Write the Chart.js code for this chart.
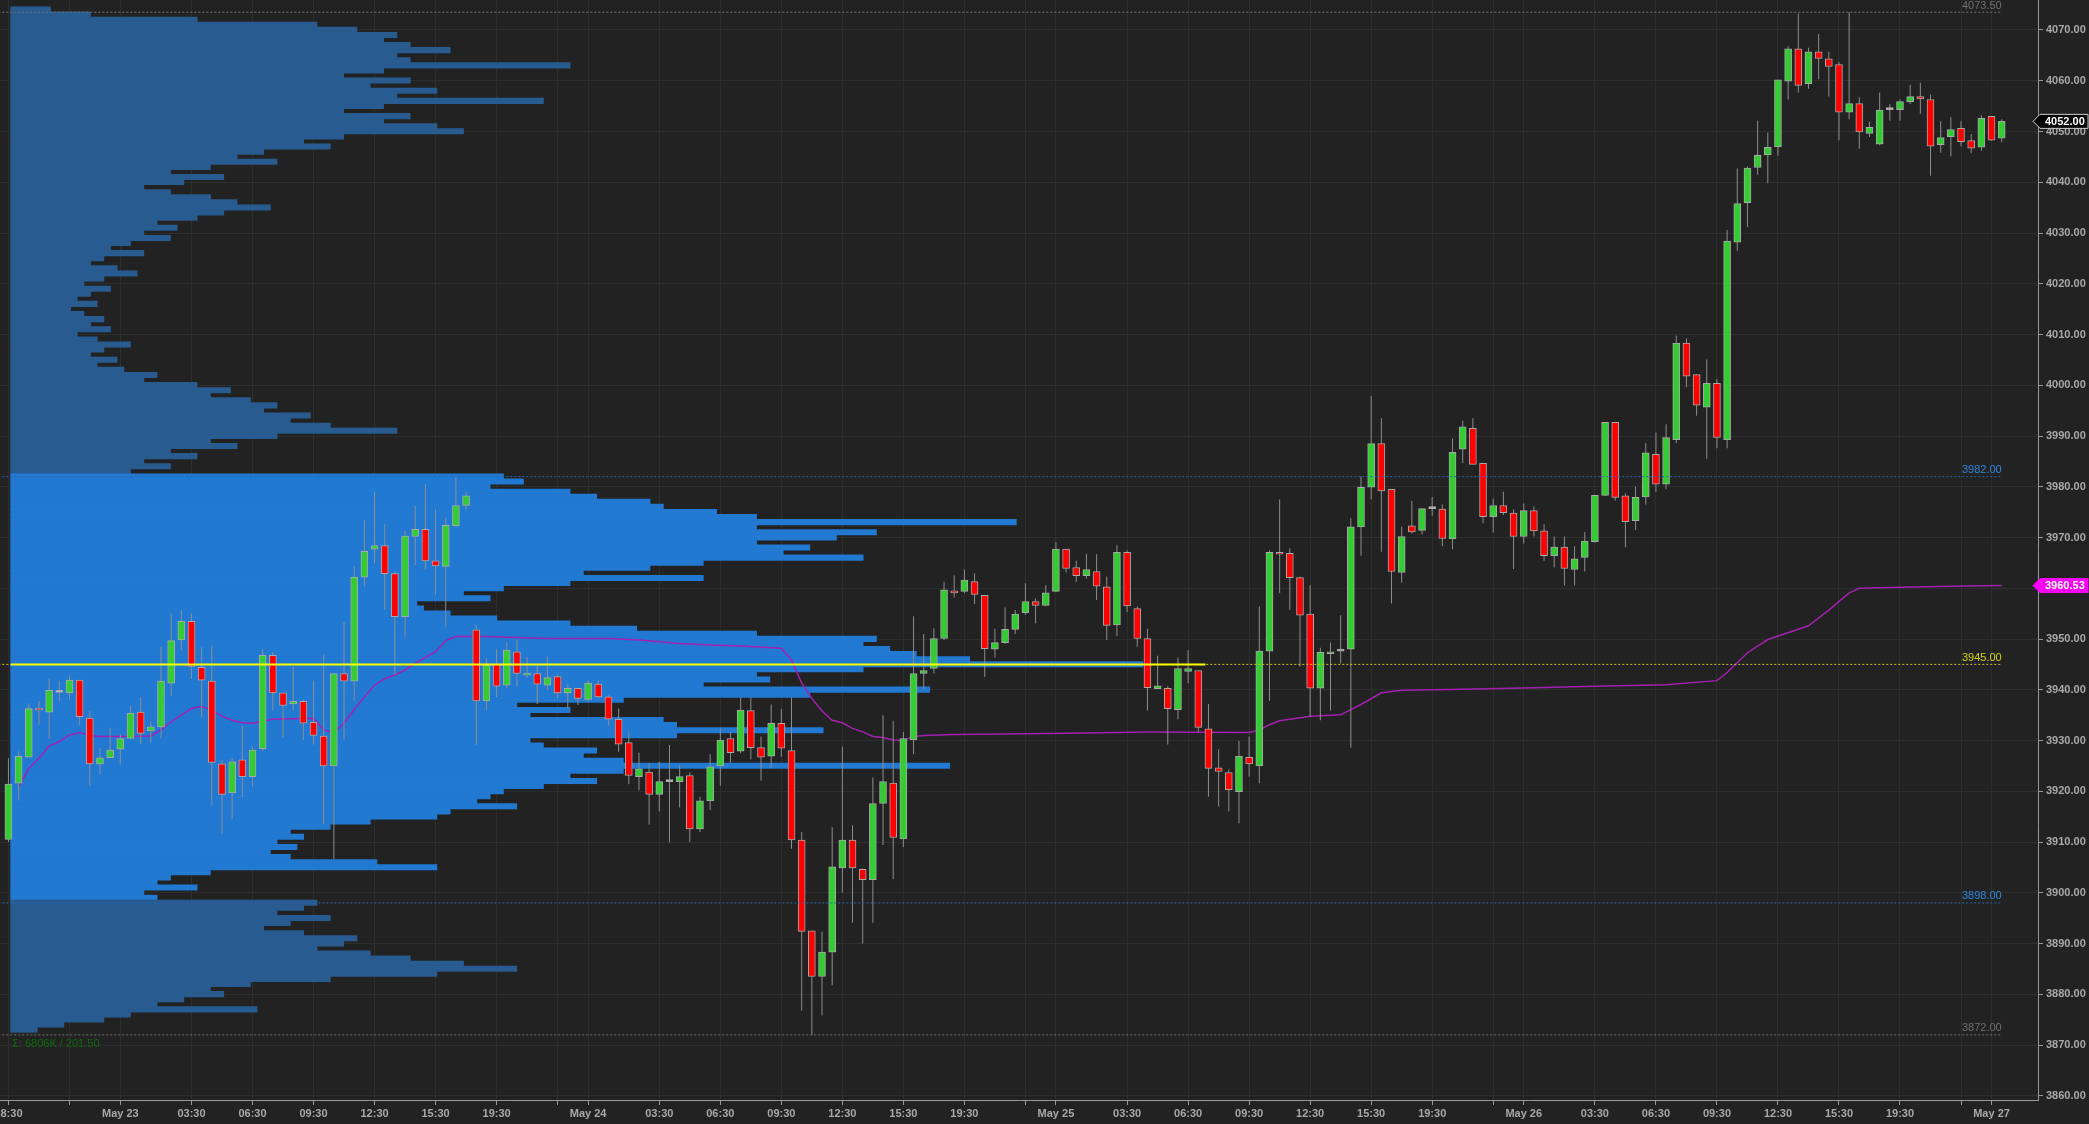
<!DOCTYPE html>
<html>
<head>
<meta charset="utf-8">
<title>30 min candles with volume profile</title>
<script src="https://cdn.jsdelivr.net/npm/chart.js@4.4.1/dist/chart.umd.min.js"></script>
<style>
  html, body { margin: 0; padding: 0; background: #222222; overflow: hidden; }
  #wrap { width: 2089px; height: 1124px; position: relative; }
</style>
</head>
<body>
<div id="wrap"><canvas id="myChart"></canvas></div>
<script>
// 30 minute bars, May 22 18:30 -> May 27 00:30 (bar index on the x axis)
const opens = [
  3910.5,3921.6,3926.7,3936.4,3935.6,3939.5,3939.4,3941.9,3934.4,3925.4,
  3926.6,3928.3,3930.4,3935.6,3931.9,3932.7,3941.3,3949.8,3953.5,3944.4,
  3941.7,3925.4,3919.7,3926.2,3922.9,3928.4,3946.8,3939.4,3937.2,3937.7,
  3933.6,3930.9,3925.0,3943.2,3941.7,3962.2,3967.7,3968.4,3962.9,3954.4,
  3970.2,3971.6,3965.4,3964.3,3972.3,3976.3,3951.8,3937.8,3945.0,3940.9,
  3947.5,3942.9,3943.2,3940.9,3942.6,3939.4,3940.3,3938.1,3941.1,3938.6,
  3934.2,3929.6,3922.9,3923.8,3919.4,3921.9,3921.9,3923.1,3912.6,3918.1,
  3925.0,3930.4,3927.9,3935.9,3928.6,3926.9,3933.4,3928.0,3910.4,3892.5,
  3883.5,3888.3,3904.9,3910.4,3904.6,3902.6,3917.6,3921.6,3910.6,3930.1,
  3943.2,3944.2,3950.1,3959.5,3959.4,3961.3,3958.6,3948.0,3949.3,3951.9,
  3955.2,3957.4,3956.6,3959.4,3967.7,3964.1,3962.5,3963.3,3960.3,3952.8,
  3967.1,3956.0,3950.1,3940.2,3940.3,3936.1,3943.6,3943.8,3932.3,3924.6,
  3923.7,3919.9,3926.7,3925.0,3947.6,3967.1,3966.9,3962.1,3954.9,3940.3,
  3947.1,3947.6,3948.0,3972.1,3979.9,3988.5,3979.5,3963.1,3972.3,3971.4,
  3975.7,3975.6,3969.7,3987.4,3991.5,3984.6,3974.1,3976.3,3974.8,3970.2,
  3975.3,3971.3,3966.4,3968.1,3963.7,3966.1,3969.2,3978.3,3992.7,3978.2,
  3973.3,3978.0,3986.4,3980.5,3989.3,4008.3,4002.1,3995.7,4000.4,3989.3,
  4028.2,4036.0,4042.9,4045.4,4047.0,4059.9,4066.3,4059.4,4065.7,4064.3,
  4063.2,4053.8,4055.5,4049.6,4047.5,4054.3,4054.3,4055.9,4056.9,4056.3,
  4047.4,4049.0,4050.6,4048.2,4046.9,4053.0,4048.7
];
const highs = [
  3926.5,3927.9,3937.3,3937.8,3942.1,3941.8,3942.8,3941.9,3935.8,3928.5,
  3932.5,3931.3,3936.8,3938.6,3933.8,3948.5,3955.1,3955.6,3955.1,3948.4,
  3948.8,3926.2,3926.5,3932.9,3928.8,3948.0,3947.4,3939.4,3944.5,3938.1,
  3941.8,3947.0,3943.2,3953.3,3964.3,3973.4,3979.0,3972.6,3963.3,3971.3,
  3976.2,3980.5,3975.5,3973.9,3982.0,3979.0,3952.8,3946.2,3948.0,3949.3,
  3949.9,3946.5,3944.9,3946.5,3943.0,3941.1,3940.3,3941.9,3941.9,3938.9,
  3936.3,3931.6,3927.6,3925.5,3925.8,3929.1,3925.2,3923.7,3918.9,3927.3,
  3932.5,3931.7,3938.5,3938.5,3930.8,3937.1,3936.2,3938.5,3912.0,3892.5,
  3892.3,3912.9,3928.8,3913.3,3904.8,3922.7,3935.0,3933.8,3931.7,3954.5,
  3951.0,3952.1,3961.3,3962.5,3963.7,3962.9,3958.6,3952.0,3956.2,3955.7,
  3961.0,3958.0,3960.6,3969.1,3967.7,3965.4,3966.8,3966.7,3962.3,3968.5,
  3967.5,3956.4,3952.0,3946.7,3940.7,3946.3,3947.8,3943.8,3937.2,3928.3,
  3924.3,3929.9,3930.8,3956.4,3967.5,3977.5,3967.9,3962.3,3960.6,3948.3,
  3949.3,3954.7,3973.8,3982.0,3997.9,3993.5,3979.5,3972.1,3977.2,3975.7,
  3978.0,3976.5,3989.5,3993.0,3993.5,3984.6,3977.7,3979.0,3975.5,3976.7,
  3976.1,3972.6,3970.2,3970.2,3968.3,3971.1,3978.3,3992.7,3992.7,3978.7,
  3980.0,3988.6,3990.7,3992.3,4009.8,4009.2,4002.1,4005.1,4001.2,4030.6,
  4042.7,4043.1,4052.1,4049.8,4060.2,4066.8,4073.25,4066.5,4069.2,4065.7,
  4063.7,4073.5,4056.7,4051.9,4057.7,4055.4,4056.3,4059.2,4059.6,4057.3,
  4052.0,4052.8,4052.0,4049.5,4053.2,4053.0,4052.4
];
const lows = [
  3910.0,3918.2,3926.7,3933.1,3930.4,3937.8,3938.1,3933.1,3921.1,3923.3,
  3926.6,3925.3,3930.4,3929.3,3929.6,3930.4,3938.8,3947.8,3942.1,3934.7,
  3917.3,3911.7,3914.6,3918.9,3921.0,3928.0,3935.9,3930.6,3935.9,3930.1,
  3929.2,3913.5,3906.6,3930.1,3937.8,3960.3,3964.9,3955.7,3942.9,3950.5,
  3964.6,3963.7,3958.7,3952.3,3972.1,3975.5,3929.1,3936.0,3938.6,3940.3,
  3940.6,3942.3,3937.2,3940.0,3938.3,3936.3,3937.0,3937.6,3938.3,3933.0,
  3927.8,3921.4,3920.2,3913.4,3916.0,3909.9,3916.8,3910.0,3912.0,3916.3,
  3921.1,3925.6,3927.5,3926.3,3922.1,3924.6,3926.8,3908.7,3876.8,3872.0,
  3875.8,3881.8,3900.0,3894.1,3890.0,3894.1,3909.4,3902.7,3909.0,3927.3,
  3940.1,3943.2,3949.8,3958.2,3959.0,3956.9,3942.5,3946.3,3949.0,3951.0,
  3954.8,3953.1,3956.4,3959.3,3963.1,3961.3,3961.9,3957.7,3949.8,3950.6,
  3955.3,3948.5,3935.9,3940.2,3929.2,3934.2,3941.3,3931.7,3918.9,3917.0,
  3916.0,3913.7,3922.9,3921.6,3937.8,3959.0,3955.7,3944.6,3934.7,3934.0,
  3935.9,3945.2,3928.6,3966.4,3977.5,3967.2,3957.0,3961.1,3970.8,3970.6,
  3974.3,3968.3,3967.7,3984.7,3984.4,3972.8,3971.0,3974.4,3963.8,3968.8,
  3970.2,3965.4,3964.1,3960.6,3960.6,3963.3,3969.0,3978.3,3977.3,3968.1,
  3971.5,3976.5,3979.0,3979.5,3988.6,3999.6,3994.0,3985.5,3987.6,3987.6,
  4026.5,4031.2,4041.5,4039.8,4045.2,4056.3,4057.7,4058.4,4060.3,4056.9,
  4048.3,4052.4,4046.6,4048.9,4047.3,4052.1,4052.1,4055.4,4053.5,4041.3,
  4045.8,4045.1,4047.1,4045.7,4046.2,4048.2,4047.9
];
const closes = [
  3921.4,3926.9,3936.3,3936.0,3939.9,3939.5,3941.9,3934.7,3925.4,3926.6,
  3928.1,3930.4,3935.4,3931.4,3932.7,3941.7,3949.7,3953.5,3944.6,3941.9,
  3925.7,3919.4,3925.8,3922.9,3928.1,3946.8,3939.4,3936.9,3937.7,3933.4,
  3931.0,3925.0,3943.2,3941.7,3962.2,3967.3,3968.4,3962.9,3954.4,3970.3,
  3971.6,3965.4,3964.4,3972.4,3976.3,3978.2,3937.8,3944.9,3940.7,3947.8,
  3943.2,3943.2,3941.1,3942.4,3939.4,3940.3,3938.3,3941.3,3938.6,3934.2,
  3929.3,3923.1,3924.4,3919.4,3921.9,3921.9,3922.9,3912.6,3918.1,3924.8,
  3930.1,3927.6,3936.0,3928.6,3926.7,3933.4,3928.5,3910.4,3892.4,3883.5,
  3888.3,3905.1,3910.4,3904.9,3902.6,3917.6,3921.9,3910.9,3930.4,3943.2,
  3943.8,3950.1,3959.7,3959.1,3961.6,3958.8,3948.1,3949.3,3951.9,3954.9,
  3957.4,3956.6,3959.1,3967.7,3963.9,3962.5,3963.7,3960.4,3952.7,3967.1,
  3956.5,3950.1,3940.4,3940.8,3936.3,3944.2,3944.2,3932.6,3924.5,3923.9,
  3920.3,3926.9,3925.4,3947.6,3967.1,3966.7,3962.1,3954.7,3940.3,3947.4,
  3947.4,3947.6,3972.1,3979.9,3988.5,3979.2,3963.3,3970.2,3971.1,3975.7,
  3975.7,3969.8,3986.8,3991.8,3984.4,3974.1,3976.3,3974.9,3970.2,3975.3,
  3971.3,3966.4,3968.1,3963.9,3965.8,3969.3,3978.3,3992.7,3977.9,3973.1,
  3977.9,3986.7,3980.5,3989.7,4008.3,4001.8,3996.1,4000.4,3989.7,4028.4,
  4035.8,4042.8,4045.3,4046.9,4060.2,4066.3,4059.1,4065.7,4064.4,4062.8,
  4053.8,4055.5,4049.9,4050.8,4054.2,4054.3,4055.9,4056.9,4056.4,4047.1,
  4048.8,4050.4,4048.0,4046.7,4052.6,4048.3,4052.0
];

// session VWAP, read at these bar indices
const vwapBars = [1,2,3,4,5,6,7,8,9,12,14,15,16,17,18,19,20,21,22,23,24,25,26,28,30,
  31,32,33,34,35,36,37,38,39,40,41,42,43,44,47,53,59,62,66,69,72,76,
  77,78,79,80,81,82,83,84,85,86,87,88,89,90,93,98,106,112,122,123,124,125,126,
  128,131,132,133,135,137,143,150,156,163,168,169,171,173,177,179,181,182,186,191,196];
const vwapValues = [3920.9,3924.5,3926.5,3928.9,3929.8,3931.1,3931.6,3931.0,3930.8,3930.8,3930.9,
  3932.1,3933.7,3935.0,3936.3,3936.7,3936.0,3934.8,3934.0,3933.5,3933.4,3933.8,3934.2,3934.3,3934.4,
  3932.1,3931.6,3933.4,3936.1,3938.6,3940.9,3942.2,3942.9,3943.9,3945.2,3946.4,3947.5,3949.7,3950.5,
  3950.5,3950.1,3950.1,3949.8,3949.1,3948.8,3948.6,3948.2,
  3945.9,3941.3,3938.3,3935.8,3934.0,3933.5,3932.4,3931.7,3930.8,3930.6,3930.1,3930.0,3930.8,3931.0,
  3931.2,3931.3,3931.5,3931.7,3931.6,3932.1,3933.1,3933.9,3934.2,
  3934.8,3935.1,3936.1,3937.1,3939.4,3939.9,3940.1,3940.4,3940.7,3941.0,3941.8,3943.4,3947.3,3949.9,
  3952.6,3955.7,3959.1,3960.0,3960.2,3960.4,3960.53];

// volume profile, 1 point rows from 4073.5 down to 3872.5 (hundreds of contracts)
const profileTop = 4073.5;
const profileVolume = [
  30,60,140,230,260,290,280,300,330,290,
  300,420,280,250,300,270,320,290,400,280,
  250,300,280,320,340,250,220,240,190,170,
  200,150,120,160,130,100,120,150,170,195,
  160,140,110,125,100,120,90,75,100,70,
  60,80,95,70,55,75,60,50,65,45,
  55,70,60,75,50,65,90,70,60,80,
  65,85,110,100,140,165,150,180,200,190,
  225,210,240,290,200,150,170,120,140,100,
  120,90,
  370,385,360,420,440,480,490,530,560,755,
  560,650,620,560,600,580,640,520,480,430,
  520,420,370,340,360,305,310,330,365,420,
  470,560,650,640,660,680,720,850,640,560,
  570,520,690,600,460,380,420,390,490,500,
  610,500,390,400,440,430,460,705,460,420,
  440,400,370,360,350,380,330,320,270,240,
  210,220,200,215,195,210,275,320,150,120,
  110,140,100,110,
  230,220,200,240,210,190,220,260,250,230,
  270,300,340,380,320,240,180,150,160,130,
  110,185,90,70,40,20
];
const valueAreaHigh = 3982;
const valueAreaLow = 3898;
const pocPrice = 3945;
const pocVolume = 897;
const profileNote = 'Σ: 6806K / 201.50';

// horizontal levels
const levelPrices = [4073.5, 3982, 3945, 3898, 3872];
const levelLineColors = ['#747474', '#2468ad', '#c9c900', '#2468ad', '#747474'];
const levelTextColors = ['#6f6f6f', '#2f86e0', '#d6d600', '#2f86e0', '#6f6f6f'];
const levelEndBar = 196;

// x axis ticks (bar index -> label)
const tickBars = [0, 11, 18, 24, 30, 36, 42, 48, 57, 64, 70, 76, 82, 88, 94, 103, 110, 116, 122, 128, 134, 140, 149, 156, 162, 168, 174, 180, 186, 195];
const tickLabels = ['18:30','May 23','03:30','06:30','09:30','12:30','15:30','19:30',
  'May 24','03:30','06:30','09:30','12:30','15:30','19:30',
  'May 25','03:30','06:30','09:30','12:30','15:30','19:30',
  'May 26','03:30','06:30','09:30','12:30','15:30','19:30','May 27'];
const minorTickBars = [6, 54, 100, 146, 192];
const priceTicks = [3860,3870,3880,3890,3900,3910,3920,3930,3940,3950,3960,3970,3980,3990,
  4000,4010,4020,4030,4040,4050,4060,4070];

const upColor = '#33cc33';
const downColor = '#ff0000';
const dojiColor = '#c8c8c8';
const yMin = 3859.17, yMax = 4075.91;
const profileRowPx = 5.4;

const bodyData = opens.map((o, i) => ({ x: i, y: [o, closes[i]] }));
const wickData = lows.map((l, i) => ({ x: i, y: [l, highs[i]] }));
const bodyColors = opens.map((o, i) => closes[i] > o ? upColor : (closes[i] < o ? downColor : dojiColor));
const vwapData = vwapBars.map((b, i) => ({ x: b, y: vwapValues[i] }));
const profileData = profileVolume.map((v, i) => ({ x: v, y: profileTop - i }));
const profileColors = profileData.map(d => (d.y < valueAreaHigh && d.y > valueAreaLow) ? '#2179d2' : '#285b8f');
const allTicks = tickBars.concat(minorTickBars).sort((a, b) => a - b);

const levelSets = levelPrices.map((p, i) => ({
  type: 'line', xAxisID: 'x', yAxisID: 'y',
  data: [{ x: -1, y: p }, { x: levelEndBar, y: p }],
  borderColor: levelLineColors[i], borderWidth: 1, borderDash: [2, 2],
  pointRadius: 0, order: 3
}));

function drawTag(ctx, left, right, yPix, text, fill, stroke) {
  const h = 14;
  ctx.beginPath();
  ctx.moveTo(left - 5, yPix);
  ctx.lineTo(left + 2, yPix - h / 2);
  ctx.lineTo(right, yPix - h / 2);
  ctx.lineTo(right, yPix + h / 2);
  ctx.lineTo(left + 2, yPix + h / 2);
  ctx.closePath();
  ctx.fillStyle = fill;
  ctx.fill();
  ctx.strokeStyle = stroke;
  ctx.lineWidth = 1;
  ctx.stroke();
  ctx.font = 'bold 11px "Liberation Sans", Arial, sans-serif';
  ctx.fillStyle = '#ffffff';
  ctx.textAlign = 'left';
  ctx.textBaseline = 'middle';
  ctx.fillText(text, left + 7, yPix + 0.5);
}

const overlay = {
  id: 'overlay',
  afterDatasetsDraw(chart) {
    const ctx = chart.ctx, xs = chart.scales.x, ys = chart.scales.y;
    ctx.save();
    ctx.font = '11px "Liberation Sans", Arial, sans-serif';
    ctx.textAlign = 'right';
    ctx.textBaseline = 'bottom';
    levelPrices.forEach((p, i) => {
      ctx.fillStyle = levelTextColors[i];
      ctx.fillText(p.toFixed(2), xs.getPixelForValue(levelEndBar), ys.getPixelForValue(p) - 1);
    });
    ctx.textAlign = 'left';
    ctx.textBaseline = 'middle';
    ctx.fillStyle = '#0d6a0d';
    ctx.fillText(profileNote, 12, ys.getPixelForValue(levelPrices[4]) + 9);
    ctx.restore();
  },
  afterDraw(chart) {
    const ctx = chart.ctx, ys = chart.scales.y, area = chart.chartArea;
    ctx.save();
    const vw = vwapValues[vwapValues.length - 1];
    drawTag(ctx, area.right, chart.width - 1, ys.getPixelForValue(vw), vw.toFixed(2), '#ff00ff', '#ff00ff');
    const last = closes[closes.length - 1];
    drawTag(ctx, area.right, chart.width - 1, ys.getPixelForValue(last), last.toFixed(2), '#000000', '#cfcfcf');
    ctx.restore();
  }
};

Chart.defaults.font.family = '"Liberation Sans", Arial, sans-serif';

new Chart('myChart', {
  type: 'bar',
  data: {
    datasets: [
      {
        label: 'Volume profile', type: 'bar', indexAxis: 'y', xAxisID: 'xp', yAxisID: 'yp',
        data: profileData, backgroundColor: profileColors, borderWidth: 0,
        barThickness: profileRowPx, order: 10
      },
      {
        label: 'VWAP', type: 'line', xAxisID: 'x', yAxisID: 'y', data: vwapData,
        borderColor: '#a61fb3', borderWidth: 1.5, pointRadius: 0, tension: 0, order: 7
      },
      {
        label: 'Wicks', type: 'bar', xAxisID: 'x', yAxisID: 'y', data: wickData,
        backgroundColor: '#8e8e8e', borderWidth: 0, barThickness: 1, grouped: false,
        inflateAmount: 0, order: 6
      },
      {
        label: 'Bodies', type: 'bar', xAxisID: 'x', yAxisID: 'y', data: bodyData,
        backgroundColor: bodyColors, borderColor: '#a9a9a9', borderWidth: 1,
        borderSkipped: false, barThickness: 7, grouped: false, minBarLength: 2, order: 5
      },
      ...levelSets,
      {
        label: 'POC', type: 'line', xAxisID: 'xp', yAxisID: 'yp',
        data: [{ x: 0, y: pocPrice }, { x: pocVolume, y: pocPrice }],
        borderColor: '#ffff00', borderWidth: 2, pointRadius: 0, order: 2
      }
    ]
  },
  options: {
    responsive: true,
    maintainAspectRatio: false,
    animation: false,
    events: [],
    layout: { padding: 0 },
    plugins: {
      legend: { display: false },
      tooltip: { enabled: false },
      title: { display: false }
    },
    scales: {
      x: {
        type: 'linear', axis: 'x', position: 'bottom', min: -0.83, max: 199.57,
        bounds: 'data', offset: false,
        grid: { color: '#2e2e2e', offset: false, tickLength: 5, tickColor: '#9a9a9a' },
        border: { color: '#9a9a9a' },
        ticks: {
          autoSkip: false, maxRotation: 0, minRotation: 0, padding: 2,
          color: '#a9a9a9', font: { size: 11, weight: 'bold' },
          callback: v => { const k = tickBars.indexOf(v); return k < 0 ? '' : tickLabels[k]; }
        },
        afterBuildTicks: s => { s.ticks = allTicks.map(v => ({ value: v })); },
        afterFit: s => { s.height = 24; s.paddingLeft = 0; s.paddingRight = 0; }
      },
      xp: {
        type: 'linear', axis: 'x', display: false, min: -8, max: 1522, offset: false,
        grid: { offset: false }
      },
      y: {
        type: 'linear', axis: 'y', position: 'right', min: yMin, max: yMax, bounds: 'data',
        offset: false,
        grid: { color: '#2e2e2e', tickLength: 5, tickColor: '#9a9a9a', offset: false },
        border: { color: '#9a9a9a' },
        ticks: {
          padding: 3, color: '#a9a9a9', font: { size: 11, weight: 'bold' },
          callback: v => Number(v).toFixed(2)
        },
        afterBuildTicks: s => { s.ticks = priceTicks.map(v => ({ value: v })); },
        afterFit: s => { s.width = 51; s.paddingTop = 0; s.paddingBottom = 0; }
      },
      yp: {
        type: 'linear', axis: 'y', display: false, min: yMin, max: yMax, bounds: 'data',
        offset: false, grid: { offset: false },
        afterBuildTicks: s => { s.ticks = priceTicks.map(v => ({ value: v })); }
      }
    }
  },
  plugins: [overlay]
});
</script>
</body>
</html>
